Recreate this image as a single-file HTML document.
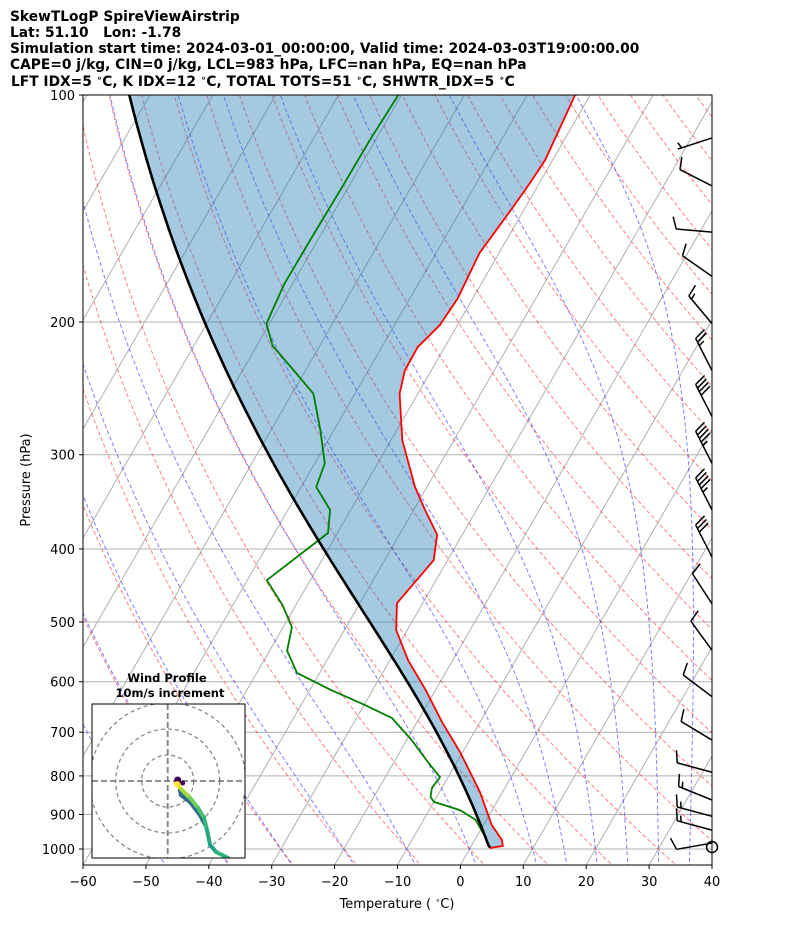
<!DOCTYPE html>
<html><head><meta charset="utf-8"><style>
html,body{margin:0;padding:0;background:#fff;}
svg{display:block;font-family:"DejaVu Sans","Liberation Sans",sans-serif;}
</style></head><body>
<svg id="chart" width="794" height="937" viewBox="0 0 794 937" xmlns="http://www.w3.org/2000/svg">
<defs><clipPath id="plotclip"><rect x="83" y="95" width="629" height="770"/></clipPath>
<clipPath id="insetclip"><rect x="92" y="704" width="153" height="154"/></clipPath></defs>
<g font-weight="bold" font-size="13.8" fill="#000">
<text x="10" y="21">SkewTLogP SpireViewAirstrip</text>
<text x="10" y="37" xml:space="preserve">Lat: 51.10   Lon: -1.78</text>
<text x="10" y="53">Simulation start time: 2024-03-01_00:00:00, Valid time: 2024-03-03T19:00:00.00</text>
<text x="10" y="69">CAPE=0 j/kg, CIN=0 j/kg, LCL=983 hPa, LFC=nan hPa, EQ=nan hPa</text>
<text x="11" y="86" xml:space="preserve">LFT IDX=5 <tspan font-size="9" dy="-5">∘</tspan><tspan dy="5">C, K IDX=12 </tspan><tspan font-size="9" dy="-5">∘</tspan><tspan dy="5">C, TOTAL TOTS=51 </tspan><tspan font-size="9" dy="-5">∘</tspan><tspan dy="5">C, SHWTR_IDX=5 </tspan><tspan font-size="9" dy="-5">∘</tspan><tspan dy="5">C</tspan></text>
</g>
<g id="grid" clip-path="url(#plotclip)"></g>
<g id="series" clip-path="url(#plotclip)"></g>
<g id="barbs"></g>
<rect x="83" y="95" width="629" height="770" fill="none" stroke="#000" stroke-width="1"/>
<g id="axes" font-size="13" fill="#000"></g>
<text x="397" y="908" text-anchor="middle" font-size="13" xml:space="preserve">Temperature ( <tspan font-size="8" dy="-5">∘</tspan><tspan dy="5">C)</tspan></text>
<text transform="translate(30,480) rotate(-90)" text-anchor="middle" font-size="13">Pressure (hPa)</text>
<g id="inset"></g>
</svg>
<script>
// ---- data ----
const tempP = [100,122,131,141,162,186,202,216,232,249,287,331,355,383,414,472,512,562,615,679,744,840,929,973,991,997];
const tempC = [-52.4,-51.2,-51.5,-52.0,-53.1,-52.4,-52.8,-54.3,-54.2,-52.9,-48.2,-41.9,-38.2,-34.0,-32.2,-34.1,-31.8,-27.1,-21.6,-16.0,-10.4,-3.6,1.3,4.3,5.0,3.1];
const dewP = [100,115,134,154,178,201,215,233,249,278,308,331,355,381,440,475,508,546,584,615,644,670,717,767,803,830,853,866,888,915,961,991];
const dewC = [-80.5,-80.9,-81.0,-81.2,-81.3,-80.5,-77.5,-71.5,-66.6,-62.2,-58.4,-57.6,-53.3,-51.5,-56.9,-52.1,-48.6,-47.2,-43.6,-36.7,-29.9,-24.4,-19.2,-14.6,-11.3,-11.6,-11.0,-10.0,-5.1,-1.7,1.2,2.8];
const surfaceP = 995, surfaceT = 3.1, surfaceTd = 2.8;
const barbP = [114,132,152,174,201,232,267,308,355,410,473,545,628,717,791,861,905,944,982];
const barbDir = [252,297,275,305,320,333,333,333,333,333,327,324,307,301,285,292,285,285,260];
const barbSpd = [5,10,10,10,15,25,40,45,45,30,10,10,10,10,10,15,15,15,10];
const hodoU = [3.6,5.5,8.6,11.7,14.0,15.1,16.3,18.6,23.2];
const hodoV = [-1.2,-3.5,-6.5,-10.4,-14.2,-18.8,-24.6,-27.3,-29.6];
const hodo2U = [4.7,5.1,8.6,12.4,14.5];
const hodo2V = [-3.5,-5.4,-8.1,-13.1,-17.0];
const xTicks = [-60,-50,-40,-30,-20,-10,0,10,20,30,40];
const pTicks = [100,200,300,400,500,600,700,800,900,1000];
const dryT0 = [-40,-30,-20,-10,0,10,20,30,40,50,60,70,80,90,100,110,120,130,140,150,160,170,180,190];
const moistT0 = [-50,-40,-30,-20,-10,0,10,15,20,25,30,35];

// ---- axes ----
const NS='http://www.w3.org/2000/svg';
const yOf = p => 95 + 754*Math.log10(p/100);
const xOf = (T,p) => 83 + (T+60)*6.29 + 0.577*(865 - yOf(p));
function mk(tag, attrs, parent){const e=document.createElementNS(NS,tag);for(const k in attrs)e.setAttribute(k,attrs[k]);parent.appendChild(e);return e;}
const grid=document.getElementById('grid'), series=document.getElementById('series'), axes=document.getElementById('axes');
function pathD(pts){return pts.map((q,i)=>(i?'L':'M')+q[0].toFixed(1)+','+q[1].toFixed(1)).join('');}
const pRange=[]; for(let p=1060;p>=95;p-=5)pRange.push(p);

for(let T=-170;T<=40;T+=10){
  const l=mk('line',{x1:xOf(T,1060),y1:yOf(1060),x2:xOf(T,95),y2:yOf(95),stroke:'#b0b0b0','stroke-width':1},grid);
  
  
}
pTicks.forEach(p=>{
  const l=mk('line',{x1:83,y1:yOf(p),x2:712,y2:yOf(p),stroke:'#b0b0b0','stroke-width':1},grid);
  
  
});
dryT0.forEach(t0=>{
  const pts=pRange.map(p=>[xOf((t0+273.15)*Math.pow(p/1000,0.2857)-273.15,p),yOf(p)]);
  const e=mk('path',{d:pathD(pts),fill:'none',stroke:'rgba(255,0,0,0.5)','stroke-width':1,'stroke-dasharray':'4,2.5'},grid);
  
  
});
const Rd=287.04,Cp=1005.7,Lv=2.501e6,eps=0.622;
function rs(Tk,p){const tc=Tk-273.15;const es=6.112*Math.exp(17.67*tc/(tc+243.5));return eps*es/(p-es);}
function dTdp(Tk,p){const r=rs(Tk,p);return (1/p)*(Rd*Tk+Lv*r)/(Cp+Lv*Lv*r*eps/(Rd*Tk*Tk));}
function moist(Tk0,p0,pEnd,step){const out=[[p0,Tk0]];let T=Tk0,p=p0;const dir=pEnd<p0?-1:1;
  while((dir<0&&p>pEnd)||(dir>0&&p<pEnd)){const dp=dir*Math.min(step,Math.abs(pEnd-p));
    const k1=dTdp(T,p),k2=dTdp(T+k1*dp/2,p+dp/2),k3=dTdp(T+k2*dp/2,p+dp/2),k4=dTdp(T+k3*dp,p+dp);
    T+=dp*(k1+2*k2+2*k3+k4)/6;p+=dp;out.push([p,T]);}return out;}
moistT0.forEach(t0=>{
  const up=moist(t0+273.15,1000,95,5), dn=moist(t0+273.15,1000,1060,5);
  const all=dn.reverse().concat(up.slice(1));
  const e=mk('path',{d:pathD(all.map(q=>[xOf(q[1]-273.15,q[0]),yOf(q[0])])),fill:'none',stroke:'rgba(0,0,255,0.5)','stroke-width':1,'stroke-dasharray':'4,2.5'},grid);
  
  
});

const T0k=surfaceT+273.15;
const Tlcl=surfaceTd-(0.001296*surfaceTd+0.1963)*(surfaceT-surfaceTd)+273.15;
const pLcl=surfaceP*Math.pow(Tlcl/T0k,3.5);
const parcel=[];
for(let p=surfaceP;p>pLcl;p-=2)parcel.push([p,T0k*Math.pow(p/surfaceP,0.2857)]);
moist(Tlcl,pLcl,100,5).forEach(q=>parcel.push(q));
const parcelPts=parcel.map(q=>[xOf(q[1]-273.15,q[0]),yOf(q[0])]);
const tempPts=tempP.map((p,i)=>[xOf(tempC[i],p),yOf(p)]);
const dewPts=dewP.map((p,i)=>[xOf(dewC[i],p),yOf(p)]);
const poly=parcelPts.concat(tempPts);
const sh=mk('path',{d:pathD(poly)+'Z',fill:'#1f77b4','fill-opacity':0.4,stroke:'none'},series);


const tl=mk('path',{d:pathD(tempPts),fill:'none',stroke:'#ff0000','stroke-width':1.8,'stroke-linejoin':'round'},series);


const dl=mk('path',{d:pathD(dewPts),fill:'none',stroke:'#008000','stroke-width':1.8,'stroke-linejoin':'round'},series);


const pl=mk('path',{d:pathD(parcelPts),fill:'none',stroke:'#000','stroke-width':2.6},series);



xTicks.forEach(T=>{
  const x=83+(T+60)*6.29;
  mk('line',{x1:x,y1:865,x2:x,y2:869,stroke:'#000'},axes);
  const t=mk('text',{x:x,y:886,'text-anchor':'middle'},axes);
  t.textContent=(T<0?'\u2212'+(-T):''+T);
  
  
});
pTicks.forEach(p=>{
  const y=yOf(p);
  mk('line',{x1:79,y1:y,x2:83,y2:y,stroke:'#000'},axes);
  const t=mk('text',{x:75,y:y+5,'text-anchor':'end'},axes);
  t.textContent=''+p;
  
  
});

const bg=document.getElementById('barbs');
barbP.forEach((p,i)=>{
  const bx=712, by=yOf(p);
  const a=barbDir[i]*Math.PI/180;
  const ux=Math.sin(a), uy=-Math.cos(a);
  const L=36, tx=bx+ux*L, ty=by+uy*L;
  const px=-uy, py=ux;
  const g=mk('g',{stroke:'#000','stroke-width':1.5,fill:'none'},bg);
  
  
  mk('line',{x1:bx,y1:by,x2:tx,y2:ty},g);
  let s=barbSpd[i], pos=0;
  const full=Math.floor(s/10), half=(s%10)>=5?1:0;
  for(let k=0;k<full;k++){const sx=tx-ux*pos,sy=ty-uy*pos;mk('line',{x1:sx,y1:sy,x2:sx+px*12+ux*4,y2:sy+py*12+uy*4},g);pos+=4;}
  if(half){if(full===0)pos=4;const sx=tx-ux*pos,sy=ty-uy*pos;mk('line',{x1:sx,y1:sy,x2:sx+px*6+ux*2,y2:sy+py*6+uy*2},g);}
});
const calm=mk('circle',{cx:712,cy:847,r:5.5,fill:'none',stroke:'#000','stroke-width':1.5},bg);



const ins=document.getElementById('inset');
const cx=167.7, cy=781, sc=2.6;
mk('rect',{x:92,y:704,width:153,height:154,fill:'#fff',stroke:'none'},ins);
const ig=mk('g',{'clip-path':'url(#insetclip)'},ins);
[10,20,30].forEach(r=>{const c=mk('circle',{cx:cx,cy:cy,r:r*sc,fill:'none',stroke:'#808080','stroke-width':1.2,'stroke-dasharray':'4,3'},ig);
  
  });
mk('line',{x1:92,y1:cy,x2:245,y2:cy,stroke:'#808080','stroke-width':1.8,'stroke-dasharray':'6,3'},ig);
mk('line',{x1:cx,y1:704,x2:cx,y2:858,stroke:'#808080','stroke-width':1.8,'stroke-dasharray':'6,3'},ig);
for(let i=1;i<hodo2U.length;i++){
  const s=mk('line',{x1:cx+hodo2U[i]*sc,y1:cy-hodo2V[i]*sc,x2:cx+hodo2U[i-1]*sc,y2:cy-hodo2V[i-1]*sc,stroke:'#31688e','stroke-width':4,'stroke-linecap':'round'},ig);
  
  
}
const cols=['#d2e21b','#a0da39','#6ece58','#4ac16d','#35b779','#26a784','#1f9e89','#2db27d','#35b779'];
for(let i=1;i<hodoU.length;i++){
  const s=mk('line',{x1:cx+hodoU[i]*sc,y1:cy-hodoV[i]*sc,x2:cx+hodoU[i-1]*sc,y2:cy-hodoV[i-1]*sc,stroke:cols[i-1],'stroke-width':4,'stroke-linecap':'round'},ig);
  
  
}
mk('circle',{cx:cx+10,cy:cy-1,r:3.5,fill:'#440154'},ig);
mk('circle',{cx:cx+15,cy:cy+2,r:2.5,fill:'#440154'},ig);
mk('circle',{cx:cx+hodoU[0]*sc,cy:cy-hodoV[0]*sc,r:3,fill:'#fde725'},ig);
mk('rect',{x:92,y:704,width:153,height:154,fill:'none',stroke:'#000','stroke-width':1},ins);
const t1=mk('text',{x:167,y:682,'text-anchor':'middle','font-size':11.5,'font-weight':'bold'},ins);
t1.textContent='Wind Profile';


const t2=mk('text',{x:170,y:697,'text-anchor':'middle','font-size':11.5,'font-weight':'bold'},ins);
t2.textContent='10m/s increment';


</script>
</body></html>
